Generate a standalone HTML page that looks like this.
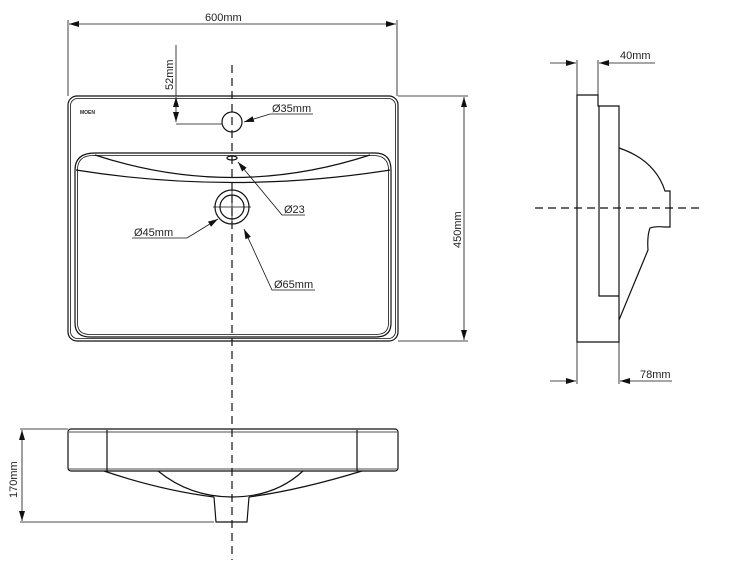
<!DOCTYPE html>
<html><head><meta charset="utf-8"><style>
html,body{margin:0;padding:0;background:#fff;width:732px;height:568px;overflow:hidden}
svg{display:block}
text{font-family:"Liberation Sans",sans-serif;font-size:11px;fill:#222}
</style></head><body>
<svg width="732" height="568" viewBox="0 0 732 568" xmlns="http://www.w3.org/2000/svg">
<defs>
<marker id="a" viewBox="0 0 10 10" refX="10" refY="5" markerWidth="10" markerHeight="10" orient="auto-start-reverse" markerUnits="userSpaceOnUse"><path d="M0,2 L10,5 L0,8 Z" fill="#111"/></marker>
</defs>
<g fill="none" stroke="#111" stroke-width="1.2">
<rect x="68" y="96" width="330" height="245" rx="9"/>
<rect x="70.5" y="98.5" width="325" height="240" rx="7" stroke-width="0.8"/>
<path d="M95,153 L375,153 Q391,153 391,170 L391,323 Q391,337 376,337 L90,337 Q75,337 75,323 L75,170 Q75,153 95,153 Z"/>
<path d="M93,155.5 L373,155.5 Q388.5,155.5 388.5,170 L388.5,323 Q388.5,334.5 376,334.5 L90,334.5 Q77.5,334.5 77.5,323 L77.5,170 Q77.5,155.5 93,155.5 Z" stroke-width="0.8"/>
<path d="M95,155 Q232,200 370,155"/>
<path d="M76,170 Q232,195 390,170"/>
<circle cx="232" cy="122" r="10"/>
<ellipse cx="232" cy="158" rx="5" ry="2"/>
<circle cx="232" cy="207" r="17"/>
<circle cx="232" cy="207" r="12"/>
<path d="M213,207 H251 M232,188 V226" stroke-width="0.8"/>
<path d="M232,65 V560" stroke-dasharray="8,5"/>
<path d="M68,96 V20 M397,96 V20" stroke-width="0.8"/>
<path d="M69,24 H396" stroke-width="0.8" marker-start="url(#a)" marker-end="url(#a)"/>
<path d="M176,45 V96" stroke-width="0.8"/>
<path d="M176,97 V122" stroke-width="0.8" marker-start="url(#a)" marker-end="url(#a)"/>
<path d="M176,124 H222" stroke-width="0.8"/>
<path d="M313,114 H270 L244,122" stroke-width="0.8" marker-end="url(#a)"/>
<path d="M305,215 H282 L238,162" stroke-width="0.8" marker-end="url(#a)"/>
<path d="M132,238 H187 L218,219" stroke-width="0.8" marker-end="url(#a)"/>
<path d="M315,290 H272 L244,229" stroke-width="0.8" marker-end="url(#a)"/>
<path d="M398,96 H468 M398,341 H468" stroke-width="0.8"/>
<path d="M464,97 V340" stroke-width="0.8" marker-start="url(#a)" marker-end="url(#a)"/>
<path d="M577,95 H598 V106 H619 V342 H577 Z"/>
<path d="M599,106 V296 H619"/>
<path d="M619,148 Q655,160 665,191 H670 V227 H665 Q655,226 650,228 Q647,236 648,250 L619,320"/>
<path d="M535,208 H703" stroke-dasharray="8,5"/>
<path d="M577,60 V95 M598,60 V95" stroke-width="0.8"/>
<path d="M550,63 H576" stroke-width="0.8" marker-end="url(#a)"/>
<path d="M655,63 H599" stroke-width="0.8" marker-end="url(#a)"/>
<path d="M577,342 V384 M619,342 V384" stroke-width="0.8"/>
<path d="M550,381 H576" stroke-width="0.8" marker-end="url(#a)"/>
<path d="M672,381 H620" stroke-width="0.8" marker-end="url(#a)"/>
<rect x="68" y="429" width="330" height="42" rx="3"/>
<path d="M69,432 H397" stroke-width="0.8"/>
<path d="M69,469 H397" stroke-width="0.8"/>
<path d="M107,430 V471 M357,430 V471"/>
<path d="M104,471 Q160,490 214,497 M362,471 Q300,490 249,497"/>
<path d="M158,471 Q190,497 232,497 Q275,497 303,471"/>
<path d="M214,497 L216,522 H247 L249,497"/>
<path d="M20,429 H68 M20,522 H214" stroke-width="0.8"/>
<path d="M22,430 V521" stroke-width="0.8" marker-start="url(#a)" marker-end="url(#a)"/>
</g>
<text x="205" y="21">600mm</text>
<text x="80" y="114" style="font-size:5px;font-weight:bold">MOEN</text>
<text transform="translate(173,90) rotate(-90)">52mm</text>
<text x="272" y="112">Ø35mm</text>
<text x="284" y="213">Ø23</text>
<text x="134" y="236">Ø45mm</text>
<text x="274" y="288">Ø65mm</text>
<text transform="translate(461,248) rotate(-90)">450mm</text>
<text x="620" y="59">40mm</text>
<text x="640" y="378">78mm</text>
<text transform="translate(17,498) rotate(-90)">170mm</text>
</svg>
</body></html>
